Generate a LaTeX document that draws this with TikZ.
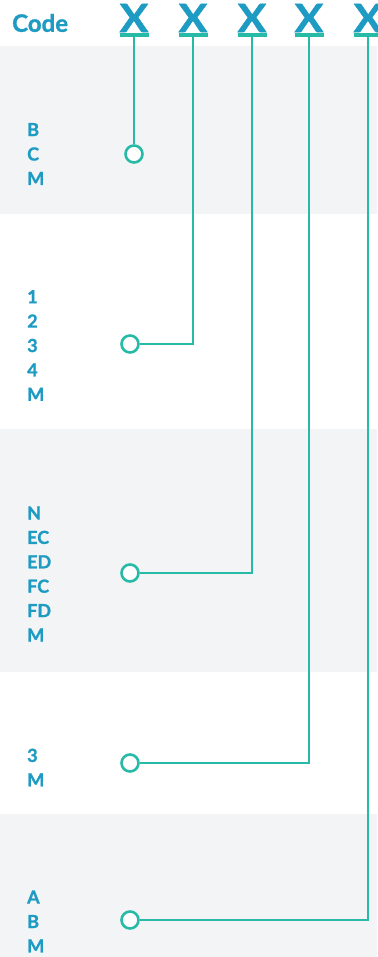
\documentclass[tikz,border=0pt]{standalone}
\usepackage{fontspec}
\setmainfont{Lato}[BoldFeatures={FakeBold=1.2}]
\usetikzlibrary{calc}
\definecolor{codeblue}{HTML}{1D9BC3}
\definecolor{wireteal}{HTML}{27BBA7}
\definecolor{bandgray}{HTML}{F3F4F6}

\begin{document}
\begin{tikzpicture}[x=1pt, y=-1pt]
\tikzset{every node/.style={inner sep=0pt, text=codeblue, font=\bfseries}, wire/.style={wireteal, line width=2.6pt}, pin/.style={circle, draw=wireteal, line width=2.6pt, fill=white, minimum size=17pt}, ubar/.style={rectangle, fill=wireteal, minimum width=29pt, minimum height=3.5pt}, digit/.style={font=\bfseries\fontsize{39}{39}\selectfont, xscale=1.1}, opts/.style={align=left, anchor=west, font=\bfseries\fontsize{18}{24.4}\selectfont}}

% Page and alternating bands
\useasboundingbox (0,0) rectangle (377,957);
\fill [bandgray] (0,46) rectangle (377,214);
\fill [bandgray] (0,429) rectangle (377,672);
\fill [bandgray] (0,814) rectangle (377,957);

% header
\node [anchor=west, font=\bfseries\fontsize{24}{24}\selectfont] (code) at (12,23) {Code};
\node [digit] (X1) at (134,18) {X};
\node [digit] (X2) at (193,18) {X};
\node [digit] (X3) at (252,18) {X};
\node [digit] (X4) at (309,18) {X};
\node [digit] (X5) at (368,18) {X};
\node [ubar] (U1) at (134,35) {};
\node [ubar] (U2) at (193,35) {};
\node [ubar] (U3) at (252,35) {};
\node [ubar] (U4) at (309,35) {};
\node [ubar] (U5) at (368,35) {};

% options per position
\node [opts] (O1) at (27,154) {B\\C\\M};
\node [opts] (O2) at (27,345.5) {1\\2\\3\\4\\M};
\node [opts] (O3) at (27,574) {N\\EC\\ED\\FC\\FD\\M};
\node [opts] (O4) at (27,767.5) {3\\M};
\node [opts] (O5) at (27,921.5) {A\\B\\M};

% pins
\node [pin] (C1) at (134,154) {};
\node [pin] (C2) at (130,344) {};
\node [pin] (C3) at (130,573) {};
\node [pin] (C4) at (130,763) {};
\node [pin] (C5) at (130,920) {};

\draw [wire] (U1) -- (C1);
\draw [wire] (U2) |- (C2);
\draw [wire] (U3) |- (C3);
\draw [wire] (U4) |- (C4);
\draw [wire] (U5) |- (C5);

\end{tikzpicture}
\end{document}
